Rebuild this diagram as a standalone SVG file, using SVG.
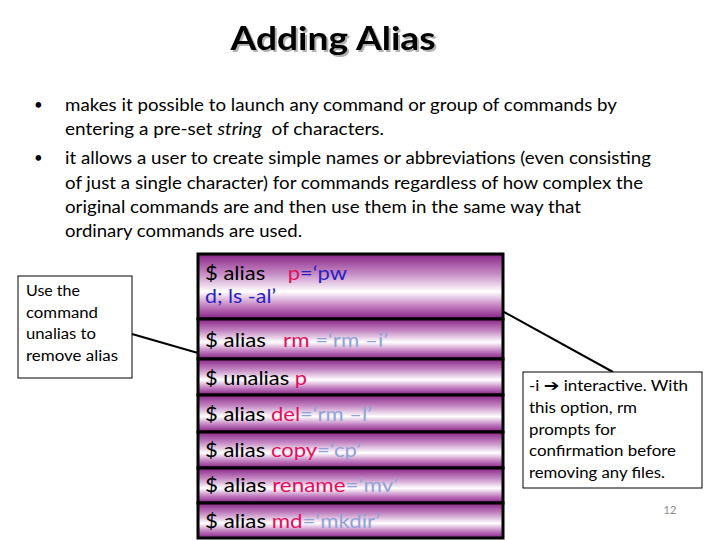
<svg xmlns="http://www.w3.org/2000/svg" width="720" height="540" viewBox="0 0 720 540">
<defs>
<linearGradient id="rowGrad" x1="0" y1="0" x2="0" y2="1">
<stop offset="0" stop-color="#8a2487"/>
<stop offset="0.3" stop-color="#c58ac4"/>
<stop offset="0.58" stop-color="#ffffff"/>
<stop offset="0.8" stop-color="#c27ec0"/>
<stop offset="1" stop-color="#861f84"/>
</linearGradient>
<filter id="shadow" x="-10%" y="-20%" width="130%" height="150%">
<feDropShadow dx="2" dy="2" stdDeviation="0.6" flood-color="#000" flood-opacity="0.3"/>
</filter>
<style>
.t{font-family:Lato,"Liberation Sans",sans-serif;}
.body{font-size:18px;fill:#000;}
.bul{font-size:15px;}
.cmd{font-size:20px;fill:#000;}
.note{font-size:14.5px;fill:#000;}
.row{fill:url(#rowGrad);stroke:#000;stroke-width:3;}
.box{fill:#fff;stroke:#000;stroke-width:1;}
.k{fill:#e0105c;}
.b{fill:#2a1fc0;}
.lb{fill:#8fa3d6;}
.conn{stroke:#000;stroke-width:2;fill:none;}
</style>
</defs>
<rect width="720" height="540" fill="#fff"/>
<g id="title">
<text class="t" x="333" y="50" text-anchor="middle" font-size="32" font-weight="bold" fill="#000" filter="url(#shadow)" textLength="205" lengthAdjust="spacingAndGlyphs">Adding Alias</text>
</g>
<g id="bullets" class="t body">
<text class="bul" x="34" y="110">•</text>
<text x="65" y="111" textLength="552" lengthAdjust="spacingAndGlyphs">makes it possible to launch any command or group of commands by</text>
<text x="65" y="135" textLength="319" lengthAdjust="spacingAndGlyphs" xml:space="preserve">entering a pre-set <tspan font-style="italic">string</tspan>  of characters.</text>
<text class="bul" x="34" y="163">•</text>
<text x="65" y="164" textLength="586" lengthAdjust="spacingAndGlyphs">it allows a user to create simple names or abbreviations (even consisting</text>
<text x="65" y="189" textLength="578" lengthAdjust="spacingAndGlyphs">of just a single character) for commands regardless of how complex the</text>
<text x="65" y="213" textLength="516" lengthAdjust="spacingAndGlyphs">original commands are and then use them in the same way that</text>
<text x="65" y="237" textLength="237" lengthAdjust="spacingAndGlyphs">ordinary commands are used.</text>
</g>
<g id="connectors">
<line class="conn" x1="132" y1="334" x2="198" y2="353"/>
<line class="conn" x1="504" y1="312" x2="613" y2="372"/>
</g>
<g id="commands">
<rect class="row" x="198" y="254" width="305" height="65"/>
<rect class="row" x="198" y="319" width="305" height="40"/>
<rect class="row" x="198" y="359" width="305" height="36"/>
<rect class="row" x="198" y="395" width="305" height="37"/>
<rect class="row" x="198" y="432" width="305" height="36"/>
<rect class="row" x="198" y="468" width="305" height="35"/>
<rect class="row" x="198" y="503" width="305" height="35"/>
<g class="t cmd">
<text x="205" y="280" textLength="142" lengthAdjust="spacingAndGlyphs" xml:space="preserve">$ alias    <tspan class="k">p</tspan><tspan class="b">=‘pw</tspan></text>
<text x="205" y="303" class="b" textLength="71" lengthAdjust="spacingAndGlyphs">d; ls -al’</text>
<text x="205" y="347" textLength="183" lengthAdjust="spacingAndGlyphs" xml:space="preserve">$ alias   <tspan class="k">rm</tspan><tspan class="lb"> =‘rm –i’</tspan></text>
<text x="205" y="385" textLength="102" lengthAdjust="spacingAndGlyphs">$ unalias <tspan class="k">p</tspan></text>
<text x="205" y="421" textLength="167" lengthAdjust="spacingAndGlyphs">$ alias <tspan class="k">del</tspan><tspan class="lb">=‘rm –l’</tspan></text>
<text x="205" y="457" textLength="156" lengthAdjust="spacingAndGlyphs">$ alias <tspan class="k">copy</tspan><tspan class="lb">=‘cp’</tspan></text>
<text x="205" y="492" textLength="193" lengthAdjust="spacingAndGlyphs">$ alias <tspan class="k">rename</tspan><tspan class="lb">=‘mv’</tspan></text>
<text x="205" y="528" textLength="175" lengthAdjust="spacingAndGlyphs">$ alias <tspan class="k">md</tspan><tspan class="lb">=‘mkdir’</tspan></text>
</g>
</g>
<g id="note-unalias">
<rect class="box" x="18" y="276" width="114" height="102"/>
<g class="t note">
<text x="26" y="296" textLength="54" lengthAdjust="spacingAndGlyphs">Use the</text>
<text x="26" y="318" textLength="72" lengthAdjust="spacingAndGlyphs">command</text>
<text x="26" y="339" textLength="70" lengthAdjust="spacingAndGlyphs">unalias to</text>
<text x="26" y="361" textLength="92" lengthAdjust="spacingAndGlyphs">remove alias</text>
</g>
</g>
<g id="note-interactive">
<rect class="box" x="523" y="372" width="179" height="116"/>
<g class="t note">
<text x="529" y="391" textLength="159" lengthAdjust="spacingAndGlyphs">-i <tspan font-family="'DejaVu Sans',sans-serif" font-weight="bold" font-size="16">➔</tspan> interactive. With</text>
<text x="529" y="413" textLength="108" lengthAdjust="spacingAndGlyphs">this option, rm</text>
<text x="529" y="435" textLength="87" lengthAdjust="spacingAndGlyphs">prompts for</text>
<text x="529" y="456" textLength="147" lengthAdjust="spacingAndGlyphs">confirmation before</text>
<text x="529" y="478" textLength="136" lengthAdjust="spacingAndGlyphs">removing any files.</text>
</g>
</g>
<g id="page-number">
<text class="t" x="670" y="514" font-size="11" fill="#8c8c8c" text-anchor="middle">12</text>
</g>
</svg>
